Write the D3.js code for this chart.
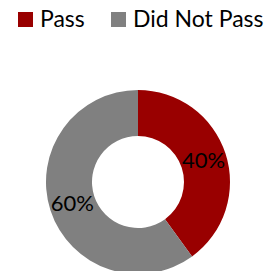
<!DOCTYPE html>
<html>
<head>
<meta charset="utf-8">
<script src="https://cdn.jsdelivr.net/npm/d3@7"></script>
<style>
    body { margin: 0; background: #ffffff; }
    svg { display: block; }
</style>
</head>
<body>
<div id="viz"></div>
<script>
const categories = ['Pass', 'Did Not Pass'];
const values = [40, 60];
const colours = ['#990000', '#808080'];

const width = 270;
const height = 271;
const cx = 138;
const cy = 182;
const outerR = 92;
const innerR = 46;
const fontFamily = 'Lato, "Open Sans", sans-serif';

const svg = d3.select('#viz').append('svg')
    .attr('width', width)
    .attr('height', height);

const colour = d3.scaleOrdinal()
    .domain(categories)
    .range(colours);

const pie = d3.pie()
    .sort(null)
    .value((d) => d.value);

const arc = d3.arc()
    .innerRadius(innerR)
    .outerRadius(outerR);

const data = categories.map((c, i) => ({ name: c, value: values[i] }));
const total = d3.sum(values);

const donut = svg.append('g')
    .attr('transform', 'translate(' + cx + ',' + cy + ')');

donut.selectAll('path').data(pie(data))
    .enter().append('path')
        .attr('d', arc)
        .style('fill', (d) => colour(d.data.name));

donut.selectAll('text').data(pie(data))
    .enter().append('text')
        .attr('transform', (d) => 'translate(' + arc.centroid(d) + ')')
        .attr('text-anchor', 'middle')
        .attr('dy', '0.35em')
        .style('font-family', fontFamily)
        .style('font-size', '22px')
        .style('fill', '#000')
        .text((d) => Math.round(d.data.value / total * 100) + '%');

// legend
const legendX = d3.scaleOrdinal()
    .domain(categories)
    .range([18, 111]);

const legend = svg.append('g').selectAll('g').data(categories)
    .enter().append('g')
        .attr('transform', (d) => 'translate(' + legendX(d) + ',12)');

legend.append('rect')
    .attr('width', 15)
    .attr('height', 15)
    .style('fill', (d) => colour(d));

legend.append('text')
    .attr('x', 22)
    .attr('y', 15)
    .style('font-family', fontFamily)
    .style('font-size', '23px')
    .style('fill', '#000')
    .text((d) => d);
</script>
</body>
</html>
